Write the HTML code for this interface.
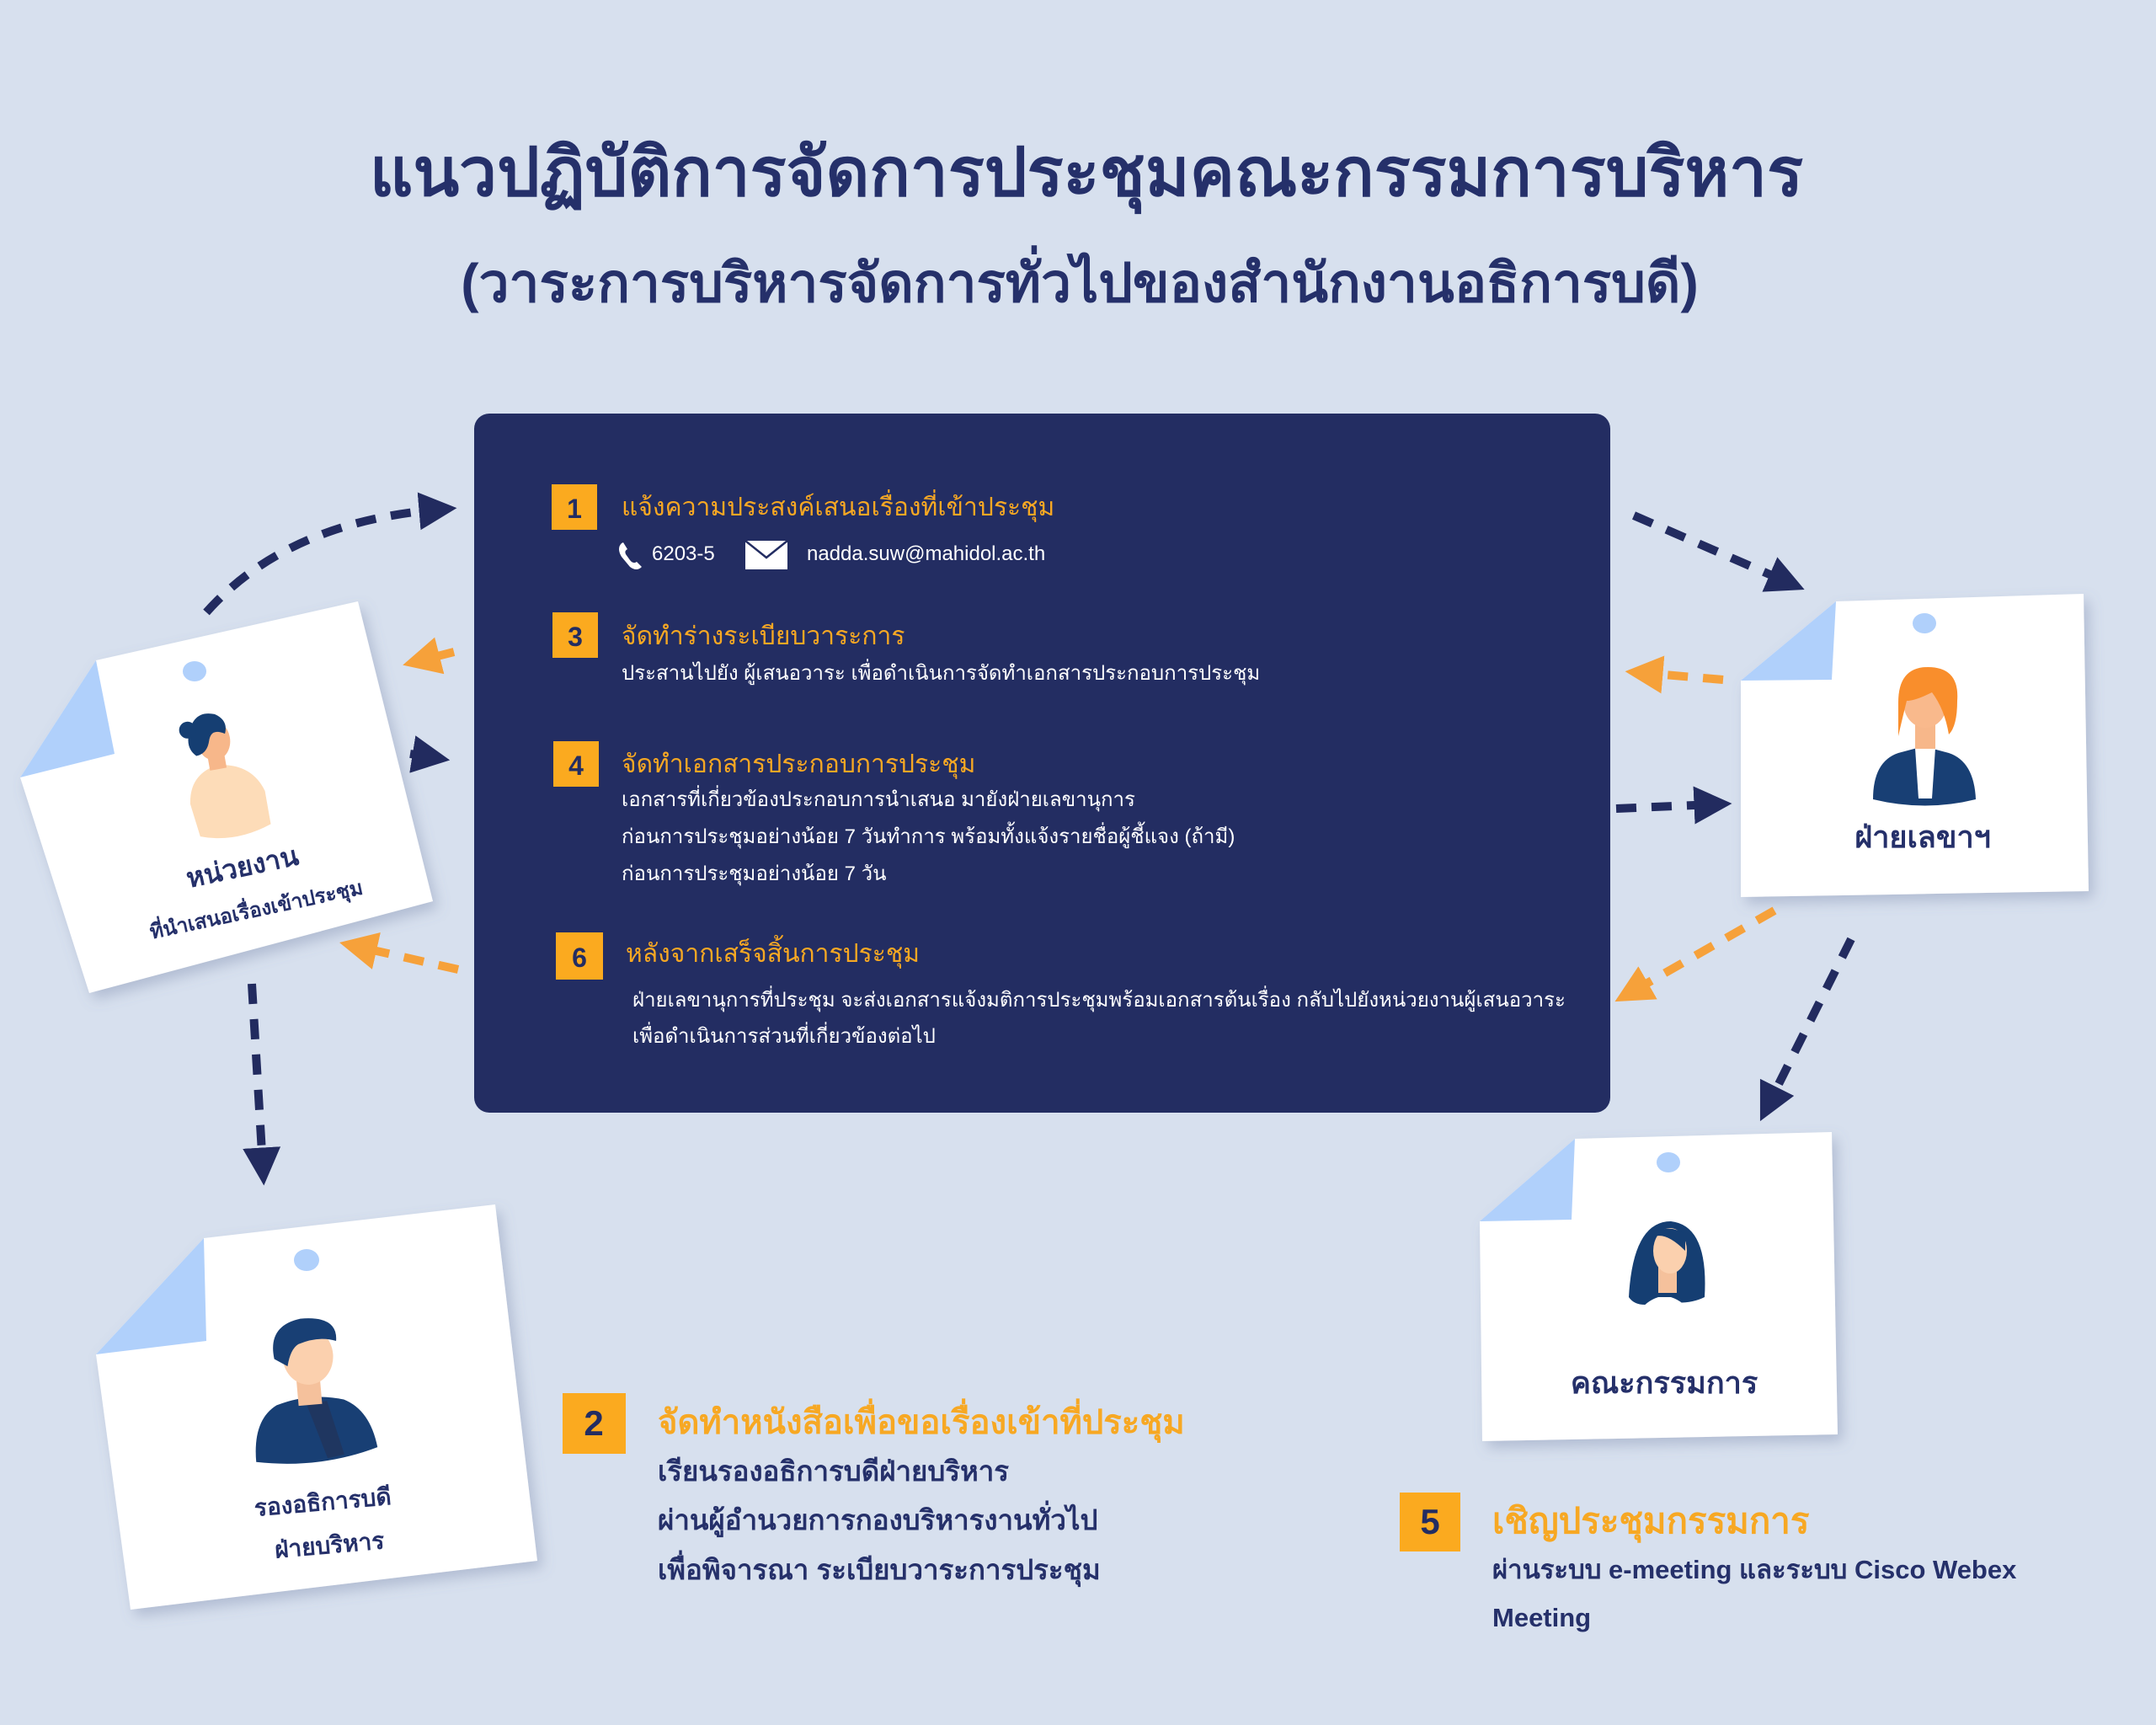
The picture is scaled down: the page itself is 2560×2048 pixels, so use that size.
<!DOCTYPE html>
<html><head><meta charset="utf-8">
<style>
html,body{margin:0;padding:0;background:#d7e0ee;}
svg{display:block;}
text{font-family:"Liberation Sans","DejaVu Sans",sans-serif;}
</style></head>
<body>
<svg width="2560" height="2048" viewBox="0 0 2560 2048" xmlns="http://www.w3.org/2000/svg">
<defs>
<marker id="an" viewBox="0 0 10 10" refX="5" refY="5" markerWidth="4.5" markerHeight="4.5" orient="auto" markerUnits="strokeWidth"><path d="M0,0 L10,5 L0,10 z" fill="#222b5f"/></marker>
<marker id="ao" viewBox="0 0 10 10" refX="5" refY="5" markerWidth="4.5" markerHeight="4.5" orient="auto" markerUnits="strokeWidth"><path d="M0,0 L10,5 L0,10 z" fill="#f6a13a"/></marker>
<filter id="sh" x="-10%" y="-10%" width="130%" height="130%"><feDropShadow dx="6" dy="8" stdDeviation="8" flood-color="#6a7aa0" flood-opacity="0.35"/></filter>
</defs>
<rect width="2560" height="2048" fill="#d7e0ee"/>

<!-- Title -->
<text x="1290" y="232" text-anchor="middle" font-size="80" font-weight="bold" fill="#25306a">แนวปฏิบัติการจัดการประชุมคณะกรรมการบริหาร</text>
<text x="1282" y="358" text-anchor="middle" font-size="64" font-weight="bold" fill="#25306a">(วาระการบริหารจัดการทั่วไปของสำนักงานอธิการบดี)</text>

<!-- Dark panel -->
<rect x="563" y="491" width="1349" height="830" rx="18" fill="#232d62"/>

<!-- Step 1 -->
<rect x="655" y="575" width="54" height="54" fill="#fbaa1f"/>
<text x="682" y="615" text-anchor="middle" font-size="32" font-weight="bold" fill="#232d62">1</text>
<text x="738" y="612" font-size="30" fill="#f7a823">แจ้งความประสงค์เสนอเรื่องที่เข้าประชุม</text>
<path d="M738 645 q-6 6 0 16 l10 12 q8 6 14 0 l-6-6 q-4 3-8-2 l-5-7 q-2-4 2-6 l-5-8z" fill="#fff"/>
<text x="774" y="665" font-size="24" fill="#fff">6203-5</text>
<rect x="885" y="642" width="50" height="34" fill="#fff"/>
<path d="M885 642 L910 662 L935 642" stroke="#232d62" stroke-width="2.5" fill="none"/>
<text x="958" y="665" font-size="24" fill="#fff">nadda.suw@mahidol.ac.th</text>

<!-- Step 3 -->
<rect x="656" y="727" width="54" height="54" fill="#fbaa1f"/>
<text x="683" y="767" text-anchor="middle" font-size="32" font-weight="bold" fill="#232d62">3</text>
<text x="738" y="765" font-size="30" fill="#f7a823">จัดทำร่างระเบียบวาระการ</text>
<text x="738" y="807" font-size="24" fill="#fff">ประสานไปยัง ผู้เสนอวาระ เพื่อดำเนินการจัดทำเอกสารประกอบการประชุม</text>

<!-- Step 4 -->
<rect x="657" y="880" width="54" height="54" fill="#fbaa1f"/>
<text x="684" y="920" text-anchor="middle" font-size="32" font-weight="bold" fill="#232d62">4</text>
<text x="738" y="917" font-size="30" fill="#f7a823">จัดทำเอกสารประกอบการประชุม</text>
<text x="738" y="957" font-size="24" fill="#fff">เอกสารที่เกี่ยวข้องประกอบการนำเสนอ มายังฝ่ายเลขานุการ</text>
<text x="738" y="1001" font-size="24" fill="#fff">ก่อนการประชุมอย่างน้อย 7 วันทำการ พร้อมทั้งแจ้งรายชื่อผู้ชี้แจง (ถ้ามี)</text>
<text x="738" y="1045" font-size="24" fill="#fff">ก่อนการประชุมอย่างน้อย 7 วัน</text>

<!-- Step 6 -->
<rect x="660" y="1107" width="56" height="56" fill="#fbaa1f"/>
<text x="688" y="1148" text-anchor="middle" font-size="32" font-weight="bold" fill="#232d62">6</text>
<text x="743" y="1142" font-size="30" fill="#f7a823">หลังจากเสร็จสิ้นการประชุม</text>
<text x="751" y="1195" font-size="24" fill="#fff">ฝ่ายเลขานุการที่ประชุม จะส่งเอกสารแจ้งมติการประชุมพร้อมเอกสารต้นเรื่อง กลับไปยังหน่วยงานผู้เสนอวาระ</text>
<text x="751" y="1238" font-size="24" fill="#fff">เพื่อดำเนินการส่วนที่เกี่ยวข้องต่อไป</text>

<!-- Cards -->
<g filter="url(#sh)">
<polygon points="114,784 425,714 514,1070 106,1179 24,923" fill="#fff"/>
<polygon points="242,1470 588,1430 638,1853 155,1911 114,1608" fill="#fff"/>
<polygon points="2180,714 2474,705 2480,1058 2067,1065 2067,808" fill="#fff"/>
<polygon points="1870,1352 2175,1344 2182,1703 1760,1711 1757,1450" fill="#fff"/>
</g>
<polygon points="114,784 136,895 24,923" fill="#b0d0fb"/>
<polygon points="242,1470 245,1592 114,1608" fill="#b0d0fb"/>
<polygon points="2180,714 2175,807 2067,808" fill="#b0d0fb"/>
<polygon points="1870,1352 1866,1448 1757,1450" fill="#b0d0fb"/>
<ellipse cx="231" cy="797" rx="14" ry="12" fill="#b0d0fb"/>
<ellipse cx="364" cy="1496" rx="15" ry="13" fill="#b0d0fb"/>
<ellipse cx="2285" cy="740" rx="14" ry="12" fill="#b0d0fb"/>
<ellipse cx="1981" cy="1380" rx="14" ry="12" fill="#b0d0fb"/>

<!-- Person 1 -->
<g transform="translate(261,923) rotate(-10)">
<path d="M-40 25 q5-35 40-40 q40 5 50 40 l0 40 q-45 15-85 0z" fill="#fddcb8"/>
<rect x="-10" y="-30" width="20" height="20" fill="#f7b78a"/>
<ellipse cx="0" cy="-45" rx="20" ry="24" fill="#f7b78a"/>
<path d="M-28 -55 q10-30 35-20 q15 10 8 25 q-15-10-20 5 q-5 15-18 15 q-10-10-5-25z" fill="#153e72"/>
<circle cx="-28" cy="-62" r="10" fill="#153e72"/>
</g>
<!-- Person 2 -->
<g transform="translate(367,1650) rotate(-5)">
<path d="M-70 80 q0-50 30-65 q40-12 80 0 q30 15 35 60 q-70 20-145 5z" fill="#183f74"/>
<path d="M-5 15 l25 0 l15 65 l-20 3z" fill="#1f3660"/>
<rect x="-14" y="-20" width="28" height="38" fill="#f5c19c"/>
<ellipse cx="2" cy="-40" rx="30" ry="34" fill="#fbd0ae"/>
<path d="M-38 -40 q-5-40 35-45 q45 0 40 30 q-20-8-45 0 q-10 5-15 25z" fill="#183f74"/>
</g>
<!-- Person 3 -->
<g transform="translate(2286,874)">
<path d="M-62 75 q0-45 30-55 l30-8 l30 8 q30 10 32 55 q-60 15-122 0z" fill="#183f74"/>
<path d="M-12 14 l24 0 l-4 60 l-16 0z" fill="#fff"/>
<rect x="-12" y="-20" width="24" height="35" fill="#f7b78a"/>
<ellipse cx="0" cy="-40" rx="26" ry="30" fill="#f9b98c"/>
<path d="M-32 -40 q0-42 35-42 q38 0 35 40 q0 30-10 40 q-5-30-20-50 q-20 10-30 10 q-5 20-10 42z" fill="#f98e2c"/>
</g>
<!-- Person 4 -->
<g transform="translate(1979,1510)">
<path d="M-45 30 q5-90 50-90 q45 5 40 90 q-20 10-50 5 q-30 10-40-5z" fill="#153e72"/>
<path d="M-40 80 q0-40 30-50 l15 0 q30 10 30 50z" fill="#fff"/>
<rect x="-10" y="-10" width="22" height="35" fill="#f5c19c"/>
<ellipse cx="4" cy="-25" rx="20" ry="27" fill="#fbd0ae"/>
<path d="M-18 -40 q15-20 40-5 l0 20 q-25-25-40-15z" fill="#153e72"/>
</g>

<!-- Card labels -->
<text transform="translate(290,1040) rotate(-12)" text-anchor="middle" font-size="32" font-weight="bold" fill="#25306a">หน่วยงาน</text>
<text transform="translate(306,1088) rotate(-12)" text-anchor="middle" font-size="24" font-weight="bold" fill="#25306a">ที่นำเสนอเรื่องเข้าประชุม</text>
<text transform="translate(384,1793) rotate(-5)" text-anchor="middle" font-size="28" font-weight="bold" fill="#25306a">รองอธิการบดี</text>
<text transform="translate(392,1844) rotate(-5)" text-anchor="middle" font-size="28" font-weight="bold" fill="#25306a">ฝ่ายบริหาร</text>
<text x="2283" y="1006" text-anchor="middle" font-size="36" font-weight="bold" fill="#25306a">ฝ่ายเลขาฯ</text>
<text x="1976" y="1654" text-anchor="middle" font-size="36" font-weight="bold" fill="#25306a">คณะกรรมการ</text>

<!-- Connectors -->
<g fill="none" stroke-width="10" stroke-dasharray="24 18">
<path d="M245 727 Q340 620 520 605" stroke="#222b5f" marker-end="url(#an)"/>
<path d="M539 774 L500 784" stroke="#f6a13a" marker-end="url(#ao)"/>
<path d="M487 895 L512 899" stroke="#222b5f" stroke-dasharray="14 8" marker-end="url(#an)"/>
<path d="M544 1151 L425 1124" stroke="#f6a13a" marker-end="url(#ao)"/>
<path d="M299 1168 L312 1385" stroke="#222b5f" marker-end="url(#an)"/>
<path d="M1940 612 L2122 691" stroke="#222b5f" marker-end="url(#an)"/>
<path d="M2046 807 L1952 799" stroke="#f6a13a" marker-end="url(#ao)"/>
<path d="M1919 960 L2034 955" stroke="#222b5f" marker-end="url(#an)"/>
<path d="M2107 1081 L1937 1178" stroke="#f6a13a" marker-end="url(#ao)"/>
<path d="M2198 1115 L2100 1311" stroke="#222b5f" marker-end="url(#an)"/>
</g>

<!-- Step 2 -->
<rect x="668" y="1654" width="75" height="72" fill="#fbaa1f"/>
<text x="705" y="1704" text-anchor="middle" font-size="42" font-weight="bold" fill="#232d62">2</text>
<text x="781" y="1702" font-size="40" font-weight="bold" fill="#f7a823">จัดทำหนังสือเพื่อขอเรื่องเข้าที่ประชุม</text>
<text x="781" y="1758" font-size="33" font-weight="bold" fill="#25306a">เรียนรองอธิการบดีฝ่ายบริหาร</text>
<text x="781" y="1816" font-size="33" font-weight="bold" fill="#25306a">ผ่านผู้อำนวยการกองบริหารงานทั่วไป</text>
<text x="781" y="1875" font-size="33" font-weight="bold" fill="#25306a">เพื่อพิจารณา  ระเบียบวาระการประชุม</text>

<!-- Step 5 -->
<rect x="1662" y="1772" width="72" height="70" fill="#fbaa1f"/>
<text x="1698" y="1821" text-anchor="middle" font-size="42" font-weight="bold" fill="#232d62">5</text>
<text x="1772" y="1820" font-size="42" font-weight="bold" fill="#f7a823">เชิญประชุมกรรมการ</text>
<text x="1772" y="1874" font-size="31" font-weight="bold" fill="#25306a">ผ่านระบบ e-meeting และระบบ Cisco Webex</text>
<text x="1772" y="1931" font-size="31" font-weight="bold" fill="#25306a">Meeting</text>
</svg>
</body></html>
